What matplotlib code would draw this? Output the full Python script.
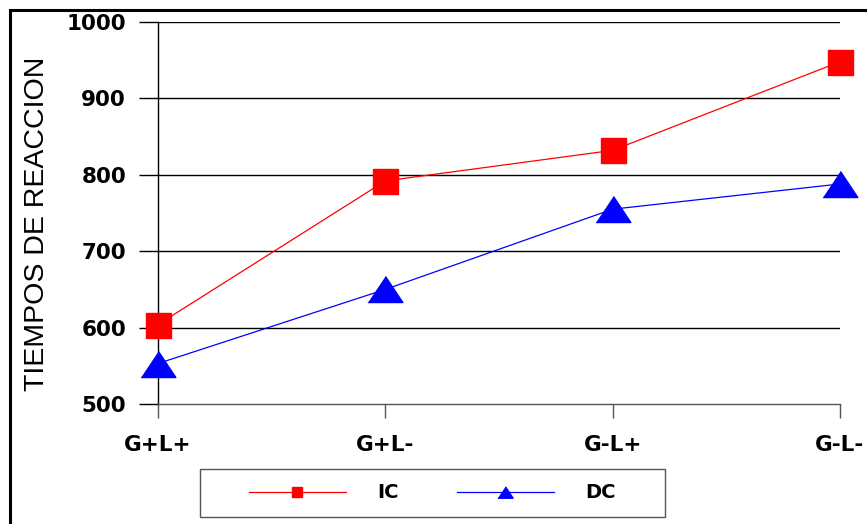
import numpy as np
import matplotlib
matplotlib.use("Agg")
import matplotlib.pyplot as plt
from matplotlib.lines import Line2D
from matplotlib.patches import Rectangle

categories = ["G+L+", "G+L-", "G-L+", "G-L-"]
ic = [604, 792, 832, 948]
dc = [553, 650, 755, 788]
yticks = [500, 600, 700, 800, 900, 1000]

tri = [(-1, -0.75), (1, -0.75), (0, 0.75)]

fig = plt.figure(figsize=(8.67, 5.24), dpi=100)
ax = fig.add_axes([158 / 867, 120 / 524, 682 / 867, 382 / 524])

x = np.arange(len(categories))
ax.plot(x, ic, color="#ff0000", lw=0.9, marker="s", ms=18, mec="#ff0000",
        mfc="#ff0000", clip_on=False, zorder=4)
ax.plot(x, dc, color="#0000ff", lw=0.9, marker=tri, ms=25, mec="#0000ff",
        mfc="#0000ff", clip_on=False, zorder=4)

ax.set_xlim(0, 3)
ax.set_ylim(500, 1000)
ax.set_xticks(x)
ax.set_xticklabels(categories)
ax.set_yticks(yticks)
ax.set_yticklabels([str(v) for v in yticks])

for v in yticks[1:]:
    ax.axhline(v, color="black", lw=1.0, zorder=1)

for s in ["top", "right"]:
    ax.spines[s].set_visible(False)
ax.spines["left"].set_color("black")
ax.spines["left"].set_linewidth(1.0)
ax.spines["bottom"].set_color("#555555")
ax.spines["bottom"].set_linewidth(1.0)

tf = dict(family="DejaVu Sans", weight="bold", size=15.5)
ax.tick_params(axis="y", direction="out", length=14, width=1.0, color="black", pad=9)
ax.tick_params(axis="x", direction="out", length=10, width=1.0, color="#555555", pad=12)
for lab in ax.get_xticklabels() + ax.get_yticklabels():
    lab.set_fontfamily(tf["family"])
    lab.set_fontweight(tf["weight"])
    lab.set_fontsize(tf["size"])

fig.text(37 / 867, 1 - 224 / 524, "TIEMPOS DE REACCION", rotation=90,
         ha="center", va="center", family="Liberation Sans", fontsize=20.5)

# legend box
fig.patches.append(Rectangle((200 / 867, 7 / 524), 465 / 867, 48 / 524,
                             transform=fig.transFigure, fill=False,
                             edgecolor="#555555", lw=1.0))
handles = [
    Line2D([], [], color="#ff0000", lw=0.9, marker="s", ms=7),
    Line2D([], [], color="#0000ff", lw=0.9, marker=tri, ms=11),
]
fig.legend(handles, ["IC", "DC"], loc="center", ncol=2,
           bbox_to_anchor=(432 / 867, 31 / 524), frameon=False,
           handlelength=5.0, handletextpad=1.6, columnspacing=3.0,
           prop=dict(family="DejaVu Sans", weight="bold", size=14))

# outer border
fig.patches.append(Rectangle((9.5 / 867, -0.1), 1.2, 1.1 - 9.5 / 524,
                             transform=fig.transFigure, fill=False,
                             edgecolor="black", lw=2.2))

fig.savefig("out.png", dpi=100)
